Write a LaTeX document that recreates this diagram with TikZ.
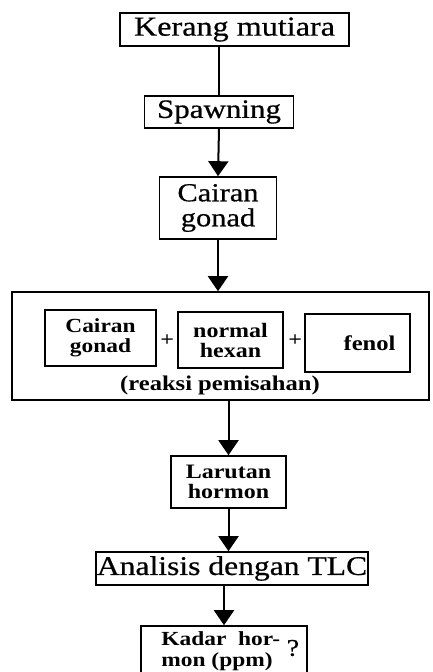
\documentclass[tikz,border=0pt]{standalone}
\usepackage{fontspec}
\setmainfont[FakeStretch=1.17, UprightFeatures={FakeBold=0.6}]{Liberation Serif}
\usepackage{tikz}
\usetikzlibrary{positioning}
\usetikzlibrary{arrows.meta}
\tikzset{
  box/.style={draw, line width=1.6pt, inner sep=0pt, align=center},
  flow/.style={line width=2pt, -{Triangle[width=20pt,length=15pt]}},
  link/.style={line width=2pt},
}

\begin{document}
\begin{tikzpicture}[x=1pt,y=-1pt]
            \path[use as bounding box, clip] (0,0) rectangle (432,672);
            % upper chain
            \node[box, minimum width=229pt, minimum height=33pt, font=\fontsize{27.5}{27.5}\selectfont] (kerang) at (234.5,29.5) {Kerang mutiara};
            \node[box, minimum width=149pt, minimum height=32pt, font=\fontsize{26.5}{26.5}\selectfont] (spawn) at (219,112) {Spawning};
            \node[box, minimum width=117pt, minimum height=62pt, font=\fontsize{26}{25}\selectfont] (cairan) at (218,208) {Cairan\\gonad};
            % reaction box
            \node[box, minimum width=417pt, minimum height=108pt] (reaksi) at (220.5,346) {};
            \node[box, minimum width=111pt, minimum height=56pt, font=\fontsize{20}{20}\selectfont\bfseries] (gonad) at (100.5,338) {Cairan\\gonad};
            \node[box, minimum width=105pt, minimum height=56pt, font=\fontsize{20.5}{20}\selectfont\bfseries] (hexan) at (230.5,340) {normal\\hexan};
            \node[box, minimum width=105pt, minimum height=58pt, font=\fontsize{21}{20}\selectfont\bfseries] (fenol) at (357.5,343) {\hspace*{24pt}fenol};
            \node[font=\fontsize{20}{20}\selectfont] (plusa) at (167,340) {+};
            \node[font=\fontsize{20}{20}\selectfont] (plusb) at (295,340) {+};
            \node[font=\fontsize{21}{21}\selectfont\bfseries] (reaksilabel) at (220,385) {(reaksi pemisahan)};
            % lower chain
            \node[box, minimum width=115pt, minimum height=52pt, font=\fontsize{20.5}{20}\selectfont\bfseries] (larutan) at (228.5,482) {Larutan\\hormon};
            \node[box, minimum width=272pt, minimum height=33pt, font=\fontsize{27}{27}\selectfont] (analisis) at (232,568.5) {Analisis dengan TLC};
            \node[box, minimum width=166pt, minimum height=50pt, font=\fontsize{20}{21}\selectfont\bfseries, align=left] (kadar) at (224,651) {Kadar\ \ hor-\\mon (ppm)\hspace*{14pt}};
            \node[font=\fontsize{24}{24}\selectfont] (qmark) at (293,648) {?};
            % connectors
            \draw[link] (spawn.north) -- (spawn.north |- kerang.south);
            \draw[flow] (spawn.south) -- (cairan.north);
            \draw[flow] (cairan.south) -- (cairan.south |- reaksi.north);
            \draw[flow] (larutan.north |- reaksi.south) -- (larutan.north);
            \draw[flow] (larutan.south) -- (larutan.south |- analisis.north);
            \draw[flow] (kadar.north |- analisis.south) -- (kadar.north);
\end{tikzpicture}
\end{document}
